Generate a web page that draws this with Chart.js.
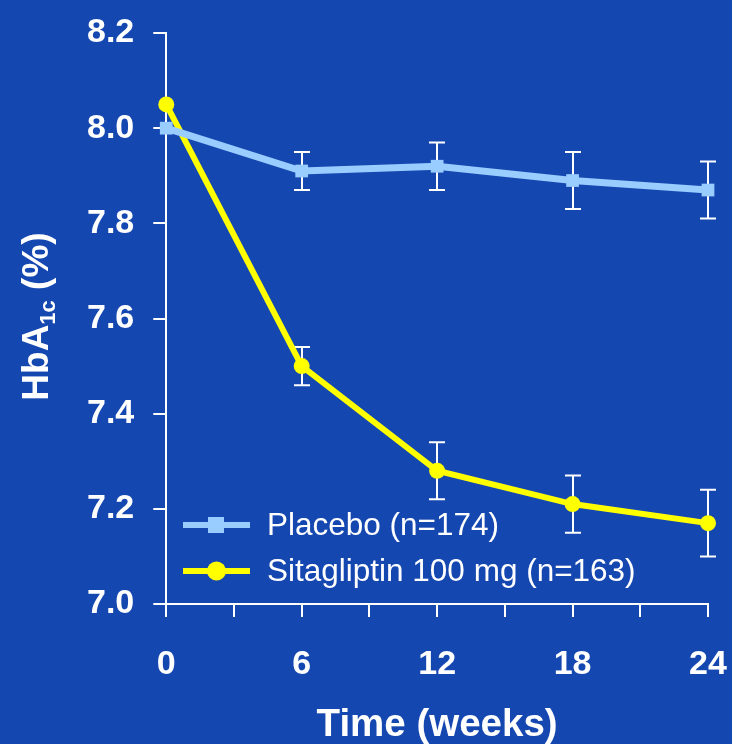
<!DOCTYPE html>
<html>
<head>
<meta charset="utf-8">
<title>HbA1c over time</title>
<script src="https://cdn.jsdelivr.net/npm/chart.js@4/dist/chart.umd.min.js"></script>
<style>
  html, body { margin: 0; padding: 0; background: #1547b1; }
  #wrap { position: relative; width: 732px; height: 744px; }
</style>
</head>
<body>
<div id="wrap"><canvas id="chart" width="732" height="744"></canvas></div>
<script>
// Study weeks and mean HbA1c (%) with error-bar half-lengths
const weeks = [0, 6, 12, 18, 24];
const placeboMean = [8.00, 7.91, 7.92, 7.89, 7.87];
const placeboErr = [null, 0.04, 0.05, 0.06, 0.06];
const sitagliptinMean = [8.05, 7.50, 7.28, 7.21, 7.17];
const sitagliptinErr = [null, 0.04, 0.06, 0.06, 0.07];

const seriesLabels = ['Placebo (n=174)', 'Sitagliptin 100 mg (n=163)'];

// Axis ticks
const yTicks = [7.0, 7.2, 7.4, 7.6, 7.8, 8.0, 8.2];
const yTickLabels = ['7.0', '7.2', '7.4', '7.6', '7.8', '8.0', '8.2'];
const xTicks = [0, 3, 6, 9, 12, 15, 18, 21, 24];
const xTickLabels = ['0', '', '6', '', '12', '', '18', '', '24'];

const FONT = 'Liberation Sans, Arial, Helvetica, sans-serif';
const WHITE = '#ffffff';
const PLACEBO_COLOR = '#99ccff';
const SITA_COLOR = '#ffff00';

const toPoints = (ys) => ys.map((v, i) => ({ x: weeks[i], y: v }));

// Vertical error bars with caps, drawn beneath the markers
const errorBarsPlugin = {
  id: 'errorBars',
  beforeDatasetsDraw(chart) {
    const { ctx, scales: { x, y } } = chart;
    ctx.save();
    ctx.strokeStyle = WHITE;
    ctx.lineWidth = 2;
    const cap = 8;
    chart.data.datasets.forEach((ds) => {
      ds.errors.forEach((e, i) => {
        if (e == null) return;
        const v = ds.data[i].y;
        const px = Math.round(x.getPixelForValue(ds.data[i].x));
        const top = y.getPixelForValue(v + e);
        const bot = y.getPixelForValue(v - e);
        ctx.beginPath();
        ctx.moveTo(px, top); ctx.lineTo(px, bot);
        ctx.moveTo(px - cap, top); ctx.lineTo(px + cap, top);
        ctx.moveTo(px - cap, bot); ctx.lineTo(px + cap, bot);
        ctx.stroke();
      });
    });
    ctx.restore();
  }
};

// Rotated y-axis title with a subscript, plus the in-plot legend
const annotationsPlugin = {
  id: 'annotations',
  afterDraw(chart) {
    const { ctx, chartArea } = chart;
    ctx.save();

    // y-axis title: HbA1c (%)
    const cy = (chartArea.top + chartArea.bottom) / 2 - 2;
    ctx.translate(48, cy);
    ctx.rotate(-Math.PI / 2);
    ctx.fillStyle = WHITE;
    ctx.textBaseline = 'alphabetic';
    const big = 'bold 37px ' + FONT;
    const small = 'bold 22px ' + FONT;
    const parts = [
      { t: 'HbA', f: big, dy: 0 },
      { t: '1c', f: small, dy: 7 },
      { t: ' (%)', f: big, dy: 0 }
    ];
    let total = 0;
    parts.forEach(p => { ctx.font = p.f; p.w = ctx.measureText(p.t).width; total += p.w; });
    let cx = -total / 2;
    parts.forEach(p => { ctx.font = p.f; ctx.textAlign = 'left'; ctx.fillText(p.t, cx, p.dy); cx += p.w; });
    ctx.restore();

    // Legend
    ctx.save();
    const rows = [525, 571];
    chart.data.datasets.forEach((ds, i) => {
      const ly = rows[i];
      ctx.strokeStyle = ds.borderColor;
      ctx.lineWidth = 6;
      ctx.beginPath();
      ctx.moveTo(183, ly); ctx.lineTo(250, ly);
      ctx.stroke();
      ctx.fillStyle = ds.borderColor;
      if (ds.pointStyle === 'rect') {
        ctx.fillRect(216 - 8, ly - 8, 16, 16);
      } else {
        ctx.beginPath();
        ctx.arc(216.5, ly, 9.5, 0, Math.PI * 2);
        ctx.fill();
      }
      ctx.fillStyle = WHITE;
      ctx.font = '31.5px ' + FONT;
      ctx.textAlign = 'left';
      ctx.textBaseline = 'middle';
      ctx.fillText(ds.label, 267, ly + 1);
    });
    ctx.restore();
  }
};

// Keep the plot edges governed by layout padding rather than label overflow
const noEdgePadding = (scale) => {
  scale.paddingTop = 0;
  scale.paddingBottom = 0;
  scale.paddingLeft = 0;
  scale.paddingRight = 0;
};

new Chart(document.getElementById('chart'), {
  type: 'line',
  data: {
    datasets: [
      {
        label: seriesLabels[0],
        data: toPoints(placeboMean),
        errors: placeboErr,
        borderColor: PLACEBO_COLOR,
        backgroundColor: PLACEBO_COLOR,
        borderWidth: 7,
        pointStyle: 'rect',
        pointRadius: 9,
        pointBorderWidth: 0,
        pointBackgroundColor: PLACEBO_COLOR,
        tension: 0,
        clip: false
      },
      {
        label: seriesLabels[1],
        data: toPoints(sitagliptinMean),
        errors: sitagliptinErr,
        borderColor: SITA_COLOR,
        backgroundColor: SITA_COLOR,
        borderWidth: 6,
        pointStyle: 'circle',
        pointRadius: 8,
        pointBorderWidth: 0,
        pointBackgroundColor: SITA_COLOR,
        tension: 0,
        clip: false
      }
    ]
  },
  options: {
    responsive: false,
    animation: false,
    devicePixelRatio: 1,
    layout: { padding: { left: 68, right: 24, top: 33, bottom: 0 } },
    plugins: {
      legend: { display: false },
      tooltip: { enabled: false }
    },
    scales: {
      x: {
        type: 'linear',
        min: 0,
        max: 24,
        afterBuildTicks: (scale) => { scale.ticks = xTicks.map(v => ({ value: v })); },
        afterFit: noEdgePadding,
        ticks: {
          autoSkip: false,
          maxRotation: 0,
          color: WHITE,
          padding: 27,
          font: { family: FONT, size: 34, weight: 'bold' },
          callback: (v) => xTickLabels[xTicks.indexOf(v)]
        },
        grid: { drawOnChartArea: false, tickLength: 13, color: WHITE, lineWidth: 2 },
        border: { color: WHITE, width: 2 },
        title: {
          display: true,
          text: 'Time (weeks)',
          color: WHITE,
          font: { family: FONT, size: 38.5, weight: 'bold', lineHeight: 0.68 },
          padding: { top: 0, bottom: 6 }
        }
      },
      y: {
        type: 'linear',
        min: 7.0,
        max: 8.2,
        afterBuildTicks: (scale) => { scale.ticks = yTicks.map(v => ({ value: v })); },
        afterFit: noEdgePadding,
        ticks: {
          color: WHITE,
          padding: 19,
          font: { family: FONT, size: 34, weight: 'bold' },
          callback: (v) => yTickLabels[yTicks.indexOf(v)]
        },
        grid: { drawOnChartArea: false, tickLength: 13, color: WHITE, lineWidth: 2 },
        border: { color: WHITE, width: 2 }
      }
    }
  },
  plugins: [errorBarsPlugin, annotationsPlugin]
});
</script>
</body>
</html>
